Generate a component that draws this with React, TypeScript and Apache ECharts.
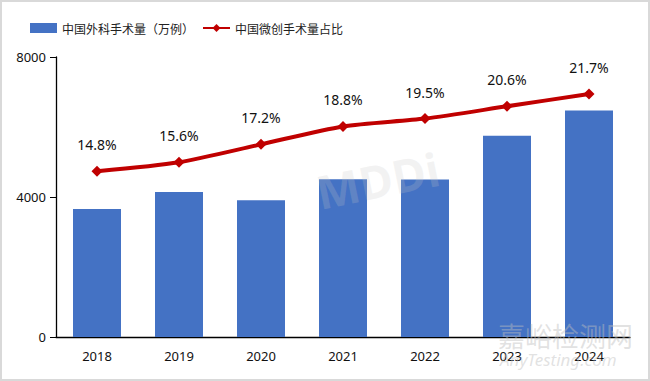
import React, { useEffect, useRef } from "react";
import * as echarts from "echarts";

const categories = ["2018", "2019", "2020", "2021", "2022", "2023", "2024"];
const surgeryVolume = [3660, 4140, 3910, 4510, 4500, 5750, 6470];
const minimallyInvasiveShare = [14.8, 15.6, 17.2, 18.8, 19.5, 20.6, 21.7];
const yTicks = [0, 4000, 8000];
const seriesNames = ["中国外科手术量（万例）", "中国微创手术量占比"];

export default function App() {
  const ref = useRef<HTMLDivElement>(null);
  useEffect(() => {
    if (!ref.current) return;
    const chart = echarts.init(ref.current, undefined, { renderer: "svg" });
    const font = "'Noto Sans', 'Noto Sans CJK SC', sans-serif";
    chart.setOption({
      animation: false,
      backgroundColor: "#ffffff",
      textStyle: { fontFamily: font },
      legend: {
        left: 25,
        top: 17,
        itemWidth: 27,
        itemHeight: 10,
        itemGap: 8,
        textStyle: { fontSize: 12, color: "#222", fontFamily: "'Noto Sans CJK SC', sans-serif" },
        data: [
          { name: seriesNames[0], icon: "rect" },
          { name: seriesNames[1] },
        ],
      },
      grid: { left: 56, right: 20, top: 57, bottom: 44, containLabel: false },
      xAxis: {
        type: "category",
        data: categories,
        axisLine: { lineStyle: { color: "#000", width: 1.3 } },
        axisTick: { show: false },
        axisLabel: { color: "#111", fontSize: 13, margin: 12, fontFamily: font },
      },
      yAxis: [
        {
          type: "value",
          min: yTicks[0],
          max: yTicks[2],
          interval: 4000,
          axisLine: { show: true, lineStyle: { color: "#000", width: 1.3 } },
          axisTick: { show: true, length: 6, lineStyle: { color: "#000" } },
          splitLine: { show: false },
          axisLabel: {
            color: "#111",
            fontSize: 13,
            margin: 10,
            fontFamily: font,
            formatter: (v: number) => String(v),
          },
        },
        {
          type: "value",
          min: 0,
          max: 25,
          show: false,
          splitLine: { show: false },
        },
      ],
      series: [
        {
          name: seriesNames[0],
          type: "bar",
          data: surgeryVolume,
          barWidth: 48,
          itemStyle: { color: "#4472C4" },
        },
        {
          name: seriesNames[1],
          type: "line",
          yAxisIndex: 1,
          data: minimallyInvasiveShare,
          smooth: 0.25,
          symbol: "diamond",
          symbolSize: 11,
          lineStyle: { color: "#C00000", width: 4 },
          itemStyle: { color: "#C00000" },
          label: {
            show: true,
            position: "top",
            distance: 14,
            formatter: (p: any) => p.value.toFixed(1) + "%",
            fontSize: 14,
            color: "#111",
            fontFamily: font,
          },
        },
      ],
      graphic: [
        {
          type: "text",
          left: 312,
          top: 145,
          rotation: 0.2,
          style: { text: "MDDi", fontSize: 46, fontWeight: "bold", fill: "rgba(200,200,200,0.22)", fontFamily: font },
          z: 100,
        },
        {
          type: "text",
          left: 498,
          top: 322,
          style: { text: "嘉峪检测网", fontSize: 27, fill: "rgba(190,190,190,0.45)", fontFamily: "'Noto Sans CJK SC', sans-serif" },
          z: 100,
        },
        {
          type: "text",
          left: 500,
          top: 351,
          style: { text: "AnyTesting.com", fontSize: 17, fontStyle: "italic", fill: "rgba(190,190,190,0.45)", fontFamily: font },
          z: 100,
        },
      ],
    });
    return () => chart.dispose();
  }, []);
  return (
    <div style={{ position: "fixed", left: 0, top: 0, width: 650, height: 381, background: "#fff" }}>
      <div ref={ref} style={{ width: 650, height: 381 }} />
      <div
        style={{
          position: "absolute",
          left: 0,
          top: 0,
          width: 650,
          height: 381,
          boxSizing: "border-box",
          border: "2px solid #d9d9d9",
          pointerEvents: "none",
        }}
      />
    </div>
  );
}
